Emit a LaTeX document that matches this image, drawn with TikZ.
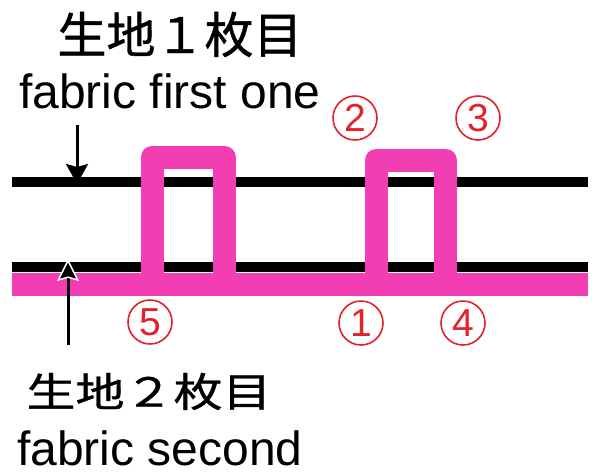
\documentclass[tikz,border=0pt]{standalone}
\usepackage{fontspec}
\setmainfont{Liberation Sans}
\newfontfamily\jp[FakeBold=0.8]{Noto Sans CJK JP}
\usetikzlibrary{arrows.meta}
\definecolor{stitchpink}{RGB}{243,61,178}
\definecolor{numred}{RGB}{228,32,40}
\tikzset{
  fabricline/.style={draw=black, line width=10pt, line cap=butt},
  bandline/.style={draw=stitchpink, line width=23pt, line cap=butt},
  stitchloop/.style={draw=stitchpink, line width=23pt, line join=round, line cap=butt},
  numcirc/.style={circle, draw=numred, line width=1.6pt, minimum size=44pt, inner sep=0pt,
    text=numred, font=\fontsize{39}{39}\selectfont},
  jptitle/.style={inner sep=0pt, font=\jp\fontsize{49}{49}\selectfont},
  entitle/.style={inner sep=0pt, anchor=base west, font=\fontsize{48}{48}\selectfont},
  pointer/.style={draw=black, line width=3pt, -{Stealth[width=22pt,length=20pt,inset=3pt]}},
  pointerup/.style={draw=black, line width=3pt,
    -{Stealth[width=22pt,length=22pt,inset=3pt,color=white,fill=black,line width=1.5pt]}}
}
\begin{document}
\begin{tikzpicture}[x=1pt,y=-1pt]
\useasboundingbox (0,0) rectangle (592,475);
% fabric lines
\coordinate (t1) at (12,181.5);
\coordinate (t2) at (588,181.5);
\coordinate (b1) at (12,267);
\coordinate (b2) at (588,267);
\coordinate (p1) at (12,284.5);
\coordinate (p2) at (588,284.5);
\draw[fabricline] (t1) -- (t2);
\draw[fabricline] (b1) -- (b2);
\draw[bandline] (p1) -- (p2);
% loop A
\coordinate (la0) at (260,284.5);
\coordinate (la1) at (152,284.5);
\coordinate (la2) at (152,157);
\coordinate (la3) at (224,157);
\coordinate (la4) at (224,284.5);
\draw[stitchloop] (la0) -- (la1) -- (la2) -- (la3) -- (la4);
% loop B
\coordinate (lb0) at (480,284.5);
\coordinate (lb1) at (376.5,284.5);
\coordinate (lb2) at (376.5,160);
\coordinate (lb3) at (445.5,160);
\coordinate (lb4) at (445.5,284.5);
\draw[stitchloop] (lb0) -- (lb1) -- (lb2) -- (lb3) -- (lb4);
% arrows
\coordinate (a1s) at (77,125);
\coordinate (a1e) at (77,184);
\draw[pointer] (a1s) -- (a1e);
\coordinate (a2s) at (68,345);
\coordinate (a2e) at (68,259);
\draw[pointerup] (a2s) -- (a2e);
% texts
\node[jptitle] (title1) at (180,34.5) {生地１枚目};
\node[jptitle] (title2) at (149,391.5) {\scalebox{1}[0.82]{生地２枚目}};
\node[entitle] (en1) at (19,108) {fabric first one};
\node[entitle] (en2) at (17,465) {fabric second};
% numbers
\node[numcirc] (n1) at (361,323) {1};
\node[numcirc] (n2) at (355,118) {2};
\node[numcirc] (n3) at (478,118) {3};
\node[numcirc] (n4) at (463,323) {4};
\node[numcirc] (n5) at (150,322) {5};
\end{tikzpicture}
\end{document}
